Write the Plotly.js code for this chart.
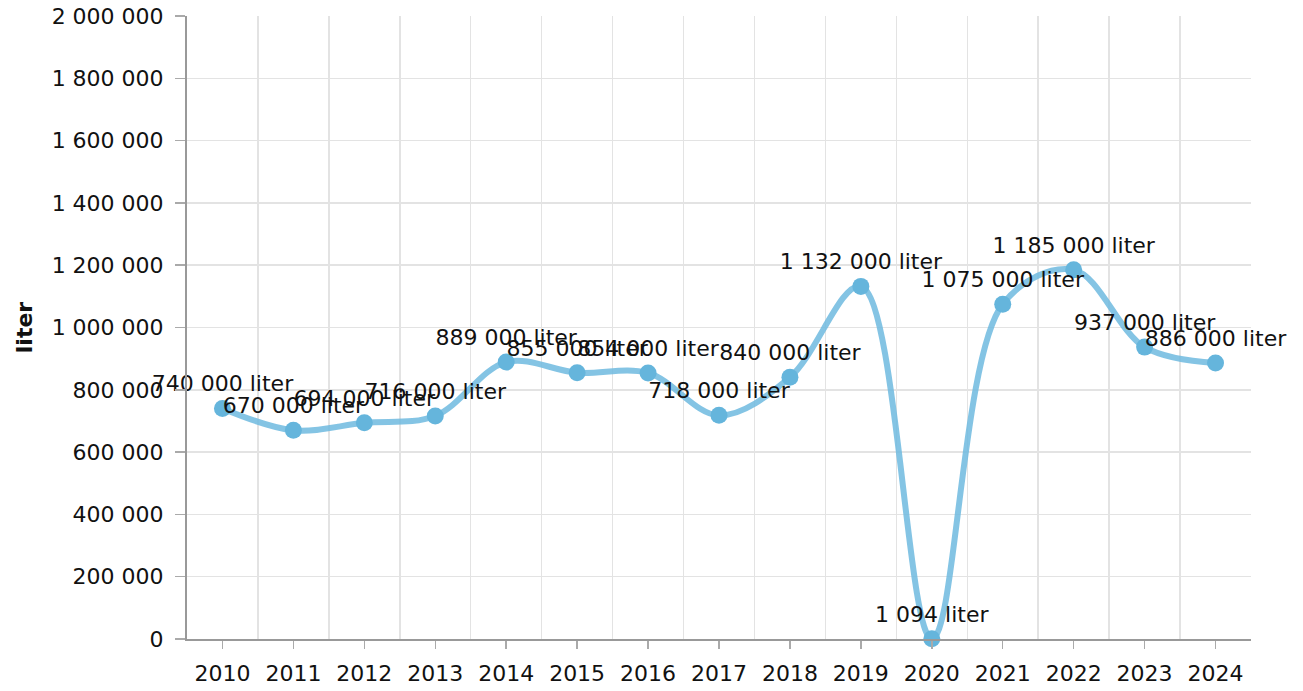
<!DOCTYPE html>
<html>
<head>
<meta charset="utf-8">
<script src="https://cdn.plot.ly/plotly-3.0.1.min.js"></script>
<style>html,body{margin:0;padding:0;background:#fff;}#chart{width:1303px;height:691px;}</style>
</head>
<body>
<div id="chart"></div>
<script>
const years = [2010, 2011, 2012, 2013, 2014, 2015, 2016, 2017, 2018, 2019, 2020, 2021, 2022, 2023, 2024];
const liters = [740000, 670000, 694000, 716000, 889000, 855000, 854000, 718000, 840000, 1132000, 1094, 1075000, 1185000, 937000, 886000];
const unit = 'liter';
const yTickVals = [0, 200000, 400000, 600000, 800000, 1000000, 1200000, 1400000, 1600000, 1800000, 2000000];

function fmt(v) { return String(v).replace(/\B(?=(\d{3})+(?!\d))/g, ' '); }
const labels = liters.map(v => fmt(v) + ' ' + unit);

const FONT = 'DejaVu Sans, Verdana, sans-serif';
const FS = 22;

const trace = {
  x: years,
  y: liters,
  type: 'scatter',
  mode: 'lines+markers+text',
  line: {shape: 'spline', smoothing: 1, color: 'rgba(110,186,223,0.85)', width: 6},
  marker: {color: '#65b5dc', size: 17},
  text: labels,
  textposition: 'top center',
  textfont: {family: FONT, size: FS, color: '#111'},
  hoverinfo: 'skip',
  cliponaxis: false
};

const layout = {
  width: 1303, height: 691,
  margin: {l: 187, r: 52, t: 16, b: 52},
  paper_bgcolor: '#fff', plot_bgcolor: '#fff',
  showlegend: false,
  separators: '. ',
  font: {family: FONT, size: FS, color: '#111'},
  xaxis: {
    range: [2009.5, 2024.5],
    tickmode: 'array', tickvals: years, ticktext: years.map(String),
    showgrid: false,
    ticks: 'outside', ticklen: 8, tickwidth: 1.5, tickcolor: '#aaa',
    ticklabelstandoff: 6,
    showline: true, linecolor: '#999', linewidth: 2,
    zeroline: false,
    tickfont: {family: FONT, size: FS, color: '#111'},
    minor: {tickmode: 'linear', tick0: 2009.5, dtick: 1, showgrid: true, gridcolor: '#e3e3e3', gridwidth: 1.5, ticks: ''},
    fixedrange: true
  },
  yaxis: {
    range: [0, 2000000],
    tickmode: 'array', tickvals: yTickVals, ticktext: yTickVals.map(fmt),
    showgrid: true, gridcolor: '#e3e3e3', gridwidth: 1.5,
    ticks: 'outside', ticklen: 10, tickwidth: 1.5, tickcolor: '#aaa',
    ticklabelstandoff: 7,
    showline: true, linecolor: '#999', linewidth: 2,
    zeroline: false,
    tickfont: {family: FONT, size: FS, color: '#111'},
    title: {text: '<b>liter</b>', font: {family: FONT, size: FS, color: '#111'}, standoff: 13},
    fixedrange: true
  }
};

Plotly.newPlot('chart', [trace], layout, {staticPlot: true, displayModeBar: false});
</script>
</body>
</html>
